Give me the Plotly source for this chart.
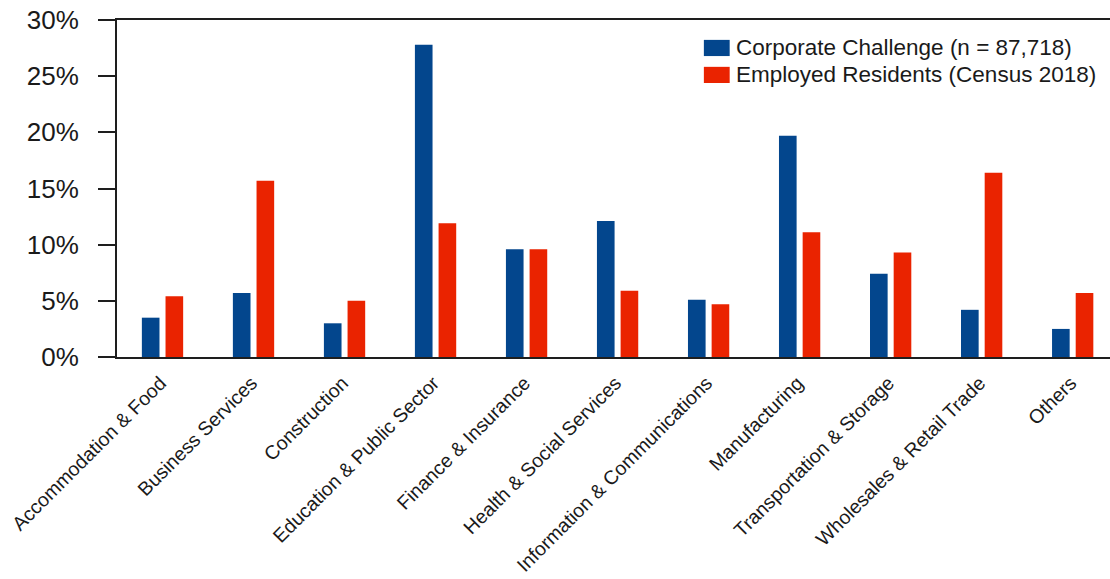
import plotly.graph_objects as go

categories = [
    "Accommodation & Food",
    "Business Services",
    "Construction",
    "Education & Public Sector",
    "Finance & Insurance",
    "Health & Social Services",
    "Information & Communications",
    "Manufacturing",
    "Transportation & Storage",
    "Wholesales & Retail Trade",
    "Others",
]
corporate_challenge = [3.5, 5.7, 3.0, 27.8, 9.6, 12.1, 5.1, 19.7, 7.4, 4.2, 2.5]
employed_residents = [5.4, 15.7, 5.0, 11.9, 9.6, 5.9, 4.7, 11.1, 9.3, 16.4, 5.7]
series_names = ["Corporate Challenge (n = 87,718)", "Employed Residents (Census 2018)"]
y_ticks = [0, 5, 10, 15, 20, 25, 30]

BLUE = "#03468d"
RED = "#ea2300"
AXIS = "#1e1e1e"
FONT = "Arial, Liberation Sans, Helvetica, sans-serif"

fig = go.Figure()
fig.add_trace(go.Bar(x=categories, y=corporate_challenge, name=series_names[0],
                     marker=dict(color=BLUE, line=dict(width=0)), showlegend=False))
fig.add_trace(go.Bar(x=categories, y=employed_residents, name=series_names[1],
                     marker=dict(color=RED, line=dict(width=0)), showlegend=False))

# legend drawn as swatches + labels in the upper right
legend_rows = [(series_names[0], BLUE, 0.917), (series_names[1], RED, 0.837)]
for label, color, yc in legend_rows:
    fig.add_shape(type="rect", xref="paper", yref="paper",
                  x0=0.591, x1=0.617, y0=yc - 0.024, y1=yc + 0.024,
                  fillcolor=color, line=dict(width=0))
    fig.add_annotation(xref="paper", yref="paper", x=0.621, y=yc, text=label,
                       showarrow=False, xanchor="left", yanchor="middle",
                       font=dict(size=22.5, color="#1a1a1a", family=FONT))

fig.update_layout(
    width=1110, height=579,
    margin=dict(l=117, r=0, t=20, b=222),
    plot_bgcolor="white", paper_bgcolor="white",
    barmode="group", bargap=0.48, bargroupgap=0.255,
    font=dict(family=FONT, color="#1a1a1a"),
)
fig.update_xaxes(
    range=[-0.5, 10.41], tickangle=-45, tickfont=dict(size=19.5, family=FONT),
    ticklabelstandoff=5, ticklabelshift=-2, automargin=False,
    showline=True, linecolor=AXIS, linewidth=2, mirror=True,
    ticks="", showgrid=False, zeroline=False,
)
fig.update_yaxes(
    range=[0, 30], tickvals=y_ticks, ticktext=[f"{v}%" for v in y_ticks],
    tickfont=dict(size=26, family=FONT), ticklabelstandoff=14, automargin=False,
    showline=True, linecolor=AXIS, linewidth=2,
    ticks="outside", ticklen=17, tickwidth=2, tickcolor=AXIS,
    showgrid=False, zeroline=False,
)

fig.write_html("out.html")
